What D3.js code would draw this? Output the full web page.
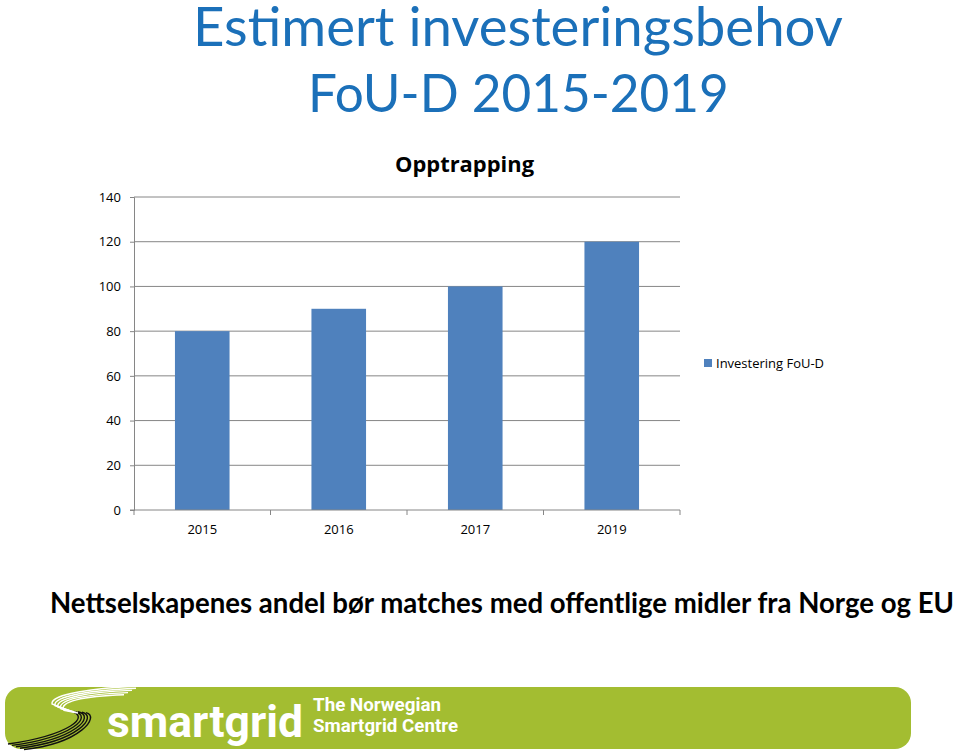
<!DOCTYPE html>
<html>
<head>
<meta charset="utf-8">
<script src="https://cdn.jsdelivr.net/npm/d3@7"></script>
<style>
html,body{margin:0;padding:0;background:#fff;}
svg{display:block;}
</style>
</head>
<body>
<svg id="chart" width="960" height="755"></svg>
<script>
const categories = ["2015", "2016", "2017", "2019"];
const values = [80, 90, 100, 120];
const yTicks = [0, 20, 40, 60, 80, 100, 120, 140];
const seriesName = "Investering FoU-D";
const titleLines = ["Estimert investeringsbehov", "FoU-D 2015-2019"];
const chartTitle = "Opptrapping";
const footnote = "Nettselskapenes andel bør matches med offentlige midler fra Norge og EU";

(function () {
const svg = d3.select("#chart");
const font = "'Open Sans', 'Noto Sans', sans-serif";
const fitFont = "Lato, 'Open Sans', sans-serif";
const pLeft = 134, pRight = 680, pTop = 197, pBottom = 510;

// fit a text to a target width by adjusting font size (no glyph stretching)
function fitText(sel, target, startSize) {
  sel.style("font-size", startSize + "px");
  const w = sel.node().getComputedTextLength();
  const size = startSize * target / w;
  sel.style("font-size", size.toFixed(2) + "px");
  return sel;
}

// Slide titles
fitText(svg.append("text").attr("x", 193).attr("y", 46)
  .style("font-family", fitFont).style("fill", "#1B70B9")
  .text(titleLines[0]), 650, 50);
fitText(svg.append("text").attr("x", 308).attr("y", 112)
  .style("font-family", fitFont).style("fill", "#1B70B9")
  .text(titleLines[1]), 421, 50);

const y = d3.scaleLinear().domain([0, 140]).range([pBottom, pTop]);
const x = d3.scaleBand().domain(categories).range([pLeft, pRight]).paddingInner(0.6).paddingOuter(0.3);

// y axis
const yAxis = svg.append("g").attr("transform", `translate(${pLeft},0)`)
  .call(d3.axisLeft(y).tickValues(yTicks).tickSize(4).tickPadding(9));
yAxis.select(".domain").attr("stroke", "#868686");
yAxis.selectAll(".tick line").attr("stroke", "#868686");
yAxis.selectAll(".tick text").style("font-family", font).style("font-size", "13px").style("fill", "#000");

// gridlines
svg.append("g").selectAll("line").data(yTicks.filter(d => d > 0)).join("line")
  .attr("x1", pLeft).attr("x2", pRight).attr("y1", d => y(d)).attr("y2", d => y(d))
  .attr("stroke", "#868686").attr("stroke-width", 1);

// bars
svg.append("g").selectAll("rect").data(values).join("rect")
  .attr("x", (d, i) => x(categories[i])).attr("width", x.bandwidth())
  .attr("y", d => y(d)).attr("height", d => y(0) - y(d))
  .attr("fill", "#4F81BD");

// x axis
const step = x.step();
const boundaries = d3.range(categories.length + 1).map(i => pLeft + i * step);
svg.append("line").attr("x1", pLeft - 4).attr("x2", pRight).attr("y1", pBottom).attr("y2", pBottom)
  .attr("stroke", "#868686");
svg.append("g").selectAll("line").data(boundaries).join("line")
  .attr("x1", d => d).attr("x2", d => d).attr("y1", pBottom).attr("y2", pBottom + 5)
  .attr("stroke", "#868686");
svg.append("g").selectAll("text").data(categories).join("text")
  .attr("x", d => x(d) + x.bandwidth() / 2).attr("y", pBottom + 24)
  .attr("text-anchor", "middle")
  .style("font-family", font).style("font-size", "13px").style("fill", "#000")
  .text(d => d);

// chart title
svg.append("text").attr("x", 395).attr("y", 172)
  .attr("textLength", 139).attr("lengthAdjust", "spacingAndGlyphs")
  .style("font-family", font).style("font-weight", "bold").style("font-size", "21px").style("fill", "#000")
  .text(chartTitle);

// legend
svg.append("rect").attr("x", 704).attr("y", 359).attr("width", 8).attr("height", 8).attr("fill", "#4F81BD");
svg.append("text").attr("x", 716).attr("y", 368)
  .attr("textLength", 108).attr("lengthAdjust", "spacingAndGlyphs")
  .style("font-family", font).style("font-size", "13px").style("fill", "#000")
  .text(seriesName);

// footnote
fitText(svg.append("text").attr("x", 50).attr("y", 613)
  .style("font-family", fitFont).style("font-weight", "bold").style("fill", "#000")
  .text(footnote), 904, 26);

// banner
const banner = svg.append("g");
banner.append("rect").attr("x", 5).attr("y", 687).attr("width", 906).attr("height", 62).attr("rx", 16)
  .attr("fill", "#A3BD31");
for (let i = 0; i < 5; i++) {
  banner.append("path")
    .attr("d", `M${140 - i * 4},${686 + i * 2.2} C${95 - i * 3},${688 + i * 2} ${50 + i * 2},${694 + i * 2} ${52 + i * 3},${704 + i * 1.6} L${70 + i * 2},${711 + i * 0.5}`)
    .attr("fill", "none").attr("stroke", "#fff").attr("stroke-width", 1.4);
  banner.append("path")
    .attr("d", `M${70 + i * 4},${711 + i * 0.4} C${92 + i * 2},${716} ${70 + i * 3},${735 + i * 2} ${8 + i * 4},${744 + i * 1.4}`)
    .attr("fill", "none").attr("stroke", "#111").attr("stroke-width", 1.4);
}
banner.append("text").attr("x", 107).attr("y", 737)
  .attr("textLength", 196).attr("lengthAdjust", "spacingAndGlyphs")
  .style("font-family", "Roboto, sans-serif").style("font-weight", "bold").style("font-size", "44px").style("fill", "#fff")
  .text("smartgrid");
banner.append("text").attr("x", 313).attr("y", 711)
  .attr("textLength", 128).attr("lengthAdjust", "spacingAndGlyphs")
  .style("font-family", "Roboto, sans-serif").style("font-weight", "bold").style("font-size", "19px").style("fill", "#fff")
  .text("The Norwegian");
banner.append("text").attr("x", 313).attr("y", 732)
  .attr("textLength", 145).attr("lengthAdjust", "spacingAndGlyphs")
  .style("font-family", "Roboto, sans-serif").style("font-weight", "bold").style("font-size", "19px").style("fill", "#fff")
  .text("Smartgrid Centre");
})();
</script>
</body>
</html>
